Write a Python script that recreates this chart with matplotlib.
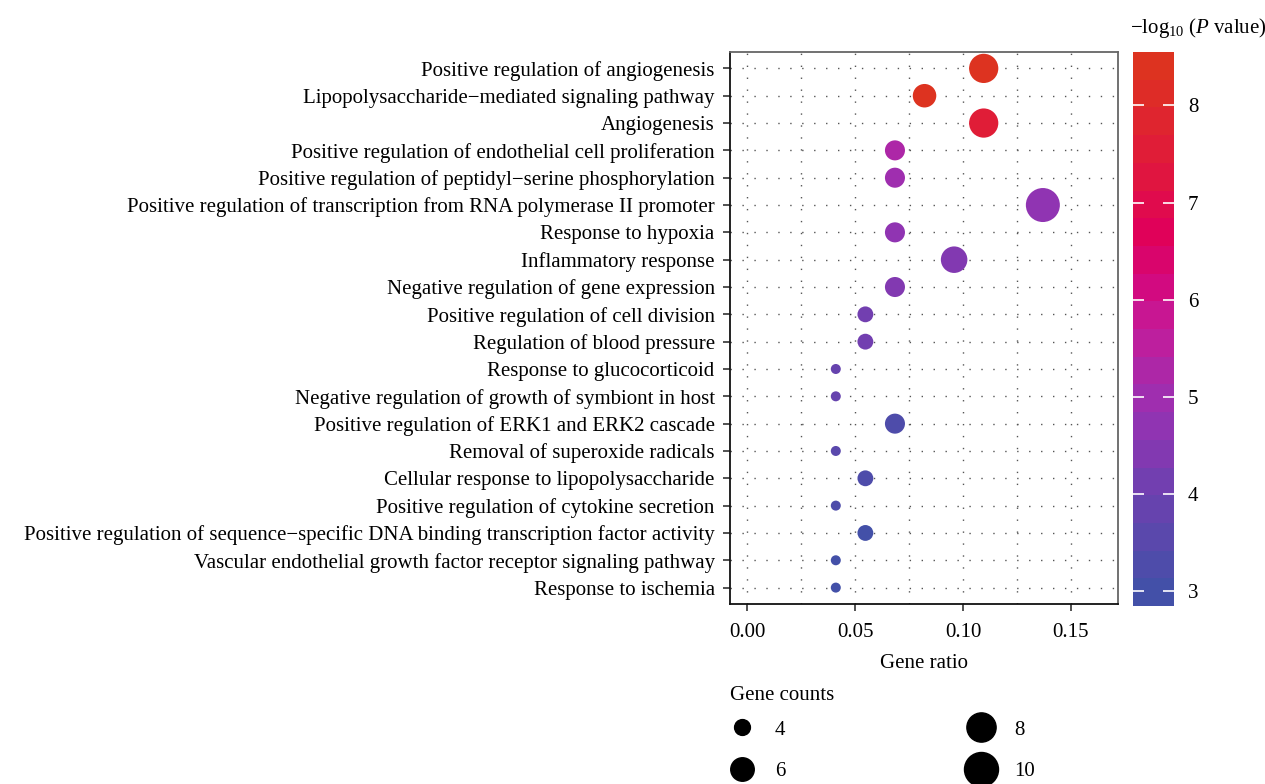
import numpy as np
import matplotlib
import matplotlib.pyplot as plt
from matplotlib.colors import LinearSegmentedColormap, ListedColormap, BoundaryNorm
from matplotlib.lines import Line2D

plt.rcParams["font.family"] = ["Liberation Serif", "DejaVu Serif"]
plt.rcParams["mathtext.fontset"] = "custom"
plt.rcParams["mathtext.rm"] = "Liberation Serif"
plt.rcParams["mathtext.it"] = "Liberation Serif:italic"

FS = 15

# === Données ===
terms = [
    "Positive regulation of angiogenesis",
    "Lipopolysaccharide\u2212mediated signaling pathway",
    "Angiogenesis",
    "Positive regulation of endothelial cell proliferation",
    "Positive regulation of peptidyl\u2212serine phosphorylation",
    "Positive regulation of transcription from RNA polymerase II promoter",
    "Response to hypoxia",
    "Inflammatory response",
    "Negative regulation of gene expression",
    "Positive regulation of cell division",
    "Regulation of blood pressure",
    "Response to glucocorticoid",
    "Negative regulation of growth of symbiont in host",
    "Positive regulation of ERK1 and ERK2 cascade",
    "Removal of superoxide radicals",
    "Cellular response to lipopolysaccharide",
    "Positive regulation of cytokine secretion",
    "Positive regulation of sequence\u2212specific DNA binding transcription factor activity",
    "Vascular endothelial growth factor receptor signaling pathway",
    "Response to ischemia",
]
gene_counts = [8, 6, 8, 5, 5, 10, 5, 7, 5, 4, 4, 3, 3, 5, 3, 4, 3, 4, 3, 3]
gene_ratio = [0.1096, 0.0822, 0.1096, 0.0685, 0.0685, 0.1370, 0.0685, 0.0959, 0.0685,
              0.0548, 0.0548, 0.0411, 0.0411, 0.0685, 0.0411, 0.0548, 0.0411, 0.0548,
              0.0411, 0.0411]
neg_log_p = [8.5, 8.35, 7.6, 5.2, 5.0, 4.8, 4.6, 4.55, 4.4, 4.15, 4.1, 3.85, 3.75,
             3.4, 3.5, 3.2, 3.3, 3.1, 3.05, 3.0]
legend_counts = [4, 6, 8, 10]

# === Échelles ===
VMIN, VMAX, NBANDS = 2.85, 8.55, 20
base = LinearSegmentedColormap.from_list(
    "pv",
    [(0.0, "#4350A8"), (0.2, "#7040B0"), (0.35, "#9A30B2"), (0.5, "#C41C9A"),
     (0.58, "#D20A80"), (0.68, "#E0005A"), (0.82, "#E01A3A"), (1.0, "#DD3320")])
cmap = ListedColormap(base(np.linspace(0, 1, NBANDS)))
bounds = np.linspace(VMIN, VMAX, NBANDS + 1)
norm = BoundaryNorm(bounds, NBANDS)


def size_pts2(count):
    # diamètre en pixels ~ sqrt(a + b*count), converti en points^2
    d_px = np.sqrt(np.maximum(-352.6 + 150.9 * np.asarray(count, float), 1))
    return (d_px * 0.72) ** 2


# === Figure ===
fig = plt.figure(figsize=(12.65, 7.84), dpi=100)
ax = fig.add_axes([730 / 1265, 180 / 784, 388 / 1265, 552 / 784])
y = np.arange(len(terms))

ax.scatter(gene_ratio, y, s=size_pts2(gene_counts), c=neg_log_p, cmap=cmap, norm=norm,
           edgecolors="none", zorder=3)

ax.set_xlim(-0.0079, 0.1718)
ax.set_ylim(len(terms) - 0.4, -0.6)
ax.set_yticks(y)
ax.set_yticklabels(terms, fontsize=FS)
ax.set_xticks([0, 0.05, 0.10, 0.15])
ax.set_xticklabels(["0.00", "0.05", "0.10", "0.15"], fontsize=FS)
ax.set_xticks([0.025, 0.075, 0.125], minor=True)
ax.set_xlabel("Gene ratio", fontsize=FS, labelpad=8)

ax.grid(True, which="both", axis="x", color="#555555", linestyle=(0, (1, 7.6)), lw=1)
ax.grid(True, which="major", axis="y", color="#555555", linestyle=(0, (1, 7.6)), lw=1)
ax.set_axisbelow(True)
ax.tick_params(axis="y", which="major", direction="out", length=5, width=1.2,
               color="#333333", pad=6)
ax.tick_params(axis="x", which="major", direction="out", length=5, width=1.2,
               color="#333333", pad=9)
ax.tick_params(axis="x", which="minor", length=0)
for side in ["left", "bottom"]:
    ax.spines[side].set_color("#111111")
for side in ["right", "top"]:
    ax.spines[side].set_color("#666666")
for sp in ax.spines.values():
    sp.set_linewidth(1.3)

# === Barre de couleur ===
cax = fig.add_axes([1133 / 1265, 178 / 784, 41 / 1265, 554 / 784])
sm = matplotlib.cm.ScalarMappable(norm=norm, cmap=cmap)
cb = fig.colorbar(sm, cax=cax, ticks=[3, 4, 5, 6, 7, 8])
cb.outline.set_visible(False)
cb.ax.minorticks_off()
cb.ax.tick_params(which="major", direction="in", length=8, width=1.2, color="white",
                  left=True, right=True, labelsize=FS, pad=10)
cb.ax.set_yticklabels(["3", "4", "5", "6", "7", "8"])
cb.ax.text(1.6, 1.0 + 24 / 554, r"$-\mathrm{log}_{10}\ (\mathit{P}\ \mathrm{value})$",
           transform=cb.ax.transAxes, ha="center", va="center", fontsize=FS)

# === Légende des tailles ===
fig.text(730 / 1265, 1 - 696 / 784, "Gene counts", fontsize=FS, ha="left", va="center")
handles = [Line2D([], [], marker="o", ls="none", color="black",
                  markersize=np.sqrt(size_pts2(c)), label=str(c)) for c in legend_counts]
leg = fig.legend(handles=handles, ncol=2, loc="upper left",
                 bbox_to_anchor=(729 / 1265, 1 - 720 / 784), frameon=False,
                 fontsize=FS, columnspacing=8.8, handlelength=1.2, handletextpad=1.0,
                 labelspacing=1.05, borderaxespad=0, borderpad=0)

fig.savefig("out.png", dpi=100)
